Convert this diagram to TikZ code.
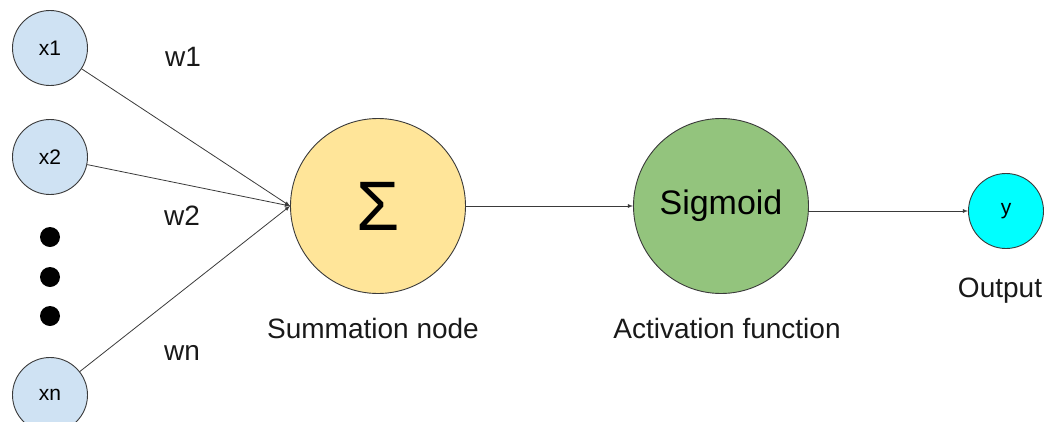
\documentclass[tikz,border=0pt]{standalone}
\usepackage{fontspec}
\setmainfont{Liberation Sans}
\usetikzlibrary{positioning, arrows}
\definecolor{inblue}{HTML}{CFE2F3}
\definecolor{sumyellow}{HTML}{FFE599}
\definecolor{siggreen}{HTML}{93C47D}
\definecolor{outcyan}{HTML}{00FFFF}
\definecolor{rim}{HTML}{3A3A3A}
\tikzset{
    on grid,
    x=1pt, y=-1pt,
    >=latex,
    every edge/.style={draw=rim, line width=0.8pt},
    input/.style={circle, draw=rim, line width=0.9pt, fill=inblue, minimum size=75pt, inner sep=0pt, font=\fontsize{21}{21}\selectfont},
    bignode/.style={circle, draw=rim, line width=0.9pt, minimum size=175pt, inner sep=0pt},
    dot/.style={circle, fill=black, minimum size=20pt, inner sep=0pt},
    lbl/.style={font=\fontsize{28}{28}\selectfont, text=black!90},
}

\begin{document}
\begin{tikzpicture}
    \useasboundingbox (0,0) rectangle (1045,421);

        \node[input] (x1) at (50,48) {x1};
        \node[input, below=109pt of x1] (x2) {x2};
        \node[input, below=347pt of x1] (xn) {xn};
        \foreach \i/\y in {1/237, 2/277, 3/316}
            \node[dot] (d\i) at (50,\y) {};

        \node[bignode, fill=sumyellow, font=\fontsize{70}{70}\selectfont] (sum) at (378,206) {Σ};
        \node[bignode, fill=siggreen, right=343pt of sum, font=\fontsize{34}{34}\selectfont] (sig) {Sigmoid};
        \node[input, fill=outcyan] (out) at (1006,211) {y};

        \node[lbl] (w1) at (183,57) {w1};
        \node[lbl] (w2) at (182,216) {w2};
        \node[lbl] (wn) at (182,353) {wn};
        \node[lbl, below=122pt of sum, xshift=-5pt] (lsum) {Summation node};
        \node[lbl, below=122pt of sig, xshift=6pt] (lsig) {Activation function};
        \node[lbl, below=80pt of out, xshift=-6pt] (lout) {Output};

    \path[->]
        (x1) edge (sum.west)
        (x2) edge (sum.west)
        (xn) edge (sum.west)
        (sum) edge (sig)
        (sig.east |- out.west) edge (out.west);
\end{tikzpicture}
\end{document}
